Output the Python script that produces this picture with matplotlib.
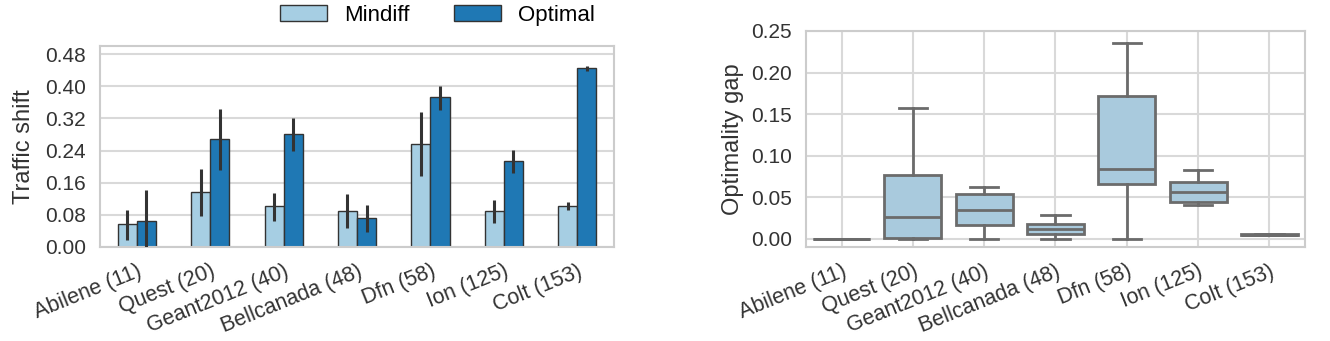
import numpy as np
import matplotlib
matplotlib.use("Agg")
import matplotlib.pyplot as plt

plt.rcParams['font.family'] = ['Liberation Sans', 'DejaVu Sans']

topologies = ["Abilene (11)", "Quest (20)", "Geant2012 (40)", "Bellcanada (48)",
              "Dfn (58)", "Ion (125)", "Colt (153)"]

# left panel: traffic shift (mean, ci low, ci high)
mindiff_mean = [0.056, 0.137, 0.101, 0.089, 0.257, 0.089, 0.103]
mindiff_lo = [0.018, 0.076, 0.065, 0.046, 0.176, 0.060, 0.093]
mindiff_hi = [0.093, 0.193, 0.135, 0.132, 0.337, 0.116, 0.112]
optimal_mean = [0.065, 0.268, 0.281, 0.071, 0.372, 0.213, 0.445]
optimal_lo = [0.000, 0.192, 0.240, 0.037, 0.341, 0.184, 0.439]
optimal_hi = [0.142, 0.343, 0.320, 0.105, 0.400, 0.242, 0.451]

# right panel: optimality gap box stats
gap_whislo = [0.0, 0.0, 0.0, 0.0, 0.0, 0.041, 0.0045]
gap_q1 = [0.0, 0.001, 0.0167, 0.006, 0.0658, 0.0447, 0.0045]
gap_med = [0.0, 0.0267, 0.0347, 0.012, 0.0837, 0.0566, 0.005]
gap_q3 = [0.0, 0.0766, 0.0546, 0.018, 0.172, 0.069, 0.006]
gap_whishi = [0.0, 0.1575, 0.063, 0.0287, 0.235, 0.0825, 0.006]

light = "#a6cee3"
dark = "#1f78b4"
grid_c = "#d9d9d9"
txt_c = "#333333"
fs = 15

fig = plt.figure(figsize=(13.3, 3.41), dpi=100)
ax1 = fig.add_axes([0.0752, 0.2757, 0.3865, 0.5894])
ax2 = fig.add_axes([0.606, 0.2757, 0.3752, 0.6334])

x = np.arange(len(topologies))
w = 0.26
m = np.array(mindiff_mean)
o = np.array(optimal_mean)
ax1.bar(x - w/2, m, w, color=light, edgecolor="#333333", linewidth=1, label="Mindiff", zorder=2)
ax1.bar(x + w/2, o, w, color=dark, edgecolor="#333333", linewidth=1, label="Optimal", zorder=2)
ax1.errorbar(x - w/2, m, yerr=[m - np.array(mindiff_lo), np.array(mindiff_hi) - m],
             fmt="none", ecolor="#333333", elinewidth=2.2, capsize=0, zorder=3)
ax1.errorbar(x + w/2, o, yerr=[o - np.array(optimal_lo), np.array(optimal_hi) - o],
             fmt="none", ecolor="#333333", elinewidth=2.2, capsize=0, zorder=3)
ax1.set_xlim(-0.5, 6.5)
ax1.set_ylim(0, 0.5)
ax1.set_yticks([0.0, 0.08, 0.16, 0.24, 0.32, 0.40, 0.48])
ax1.set_yticklabels(["%.2f" % v for v in [0.0, 0.08, 0.16, 0.24, 0.32, 0.40, 0.48]])
ax1.yaxis.grid(True, color=grid_c, linewidth=1.5, zorder=0)
ax1.set_axisbelow(True)
ax1.set_ylabel("Traffic shift", fontsize=17, color=txt_c, labelpad=7)

stats = []
for i in range(len(topologies)):
    stats.append({"whislo": gap_whislo[i], "q1": gap_q1[i], "med": gap_med[i],
                  "q3": gap_q3[i], "whishi": gap_whishi[i], "fliers": []})
lc = "#6b6b6b"
ax2.bxp(stats, positions=x, widths=0.8, patch_artist=True, showfliers=False,
        boxprops=dict(facecolor="#a9cadd", edgecolor=lc, linewidth=2),
        medianprops=dict(color=lc, linewidth=2),
        whiskerprops=dict(color=lc, linewidth=2),
        capprops=dict(color=lc, linewidth=2), capwidths=0.4)
ax2.set_xlim(-0.5, 6.5)
ax2.set_ylim(-0.0096, 0.25)
ax2.set_yticks([0.0, 0.05, 0.10, 0.15, 0.20, 0.25])
ax2.set_yticklabels(["%.2f" % v for v in [0.0, 0.05, 0.10, 0.15, 0.20, 0.25]])
ax2.grid(True, color=grid_c, linewidth=1.5, zorder=0)
ax2.set_axisbelow(True)
ax2.set_ylabel("Optimality gap", fontsize=17, color=txt_c, labelpad=5)

for ax in (ax1, ax2):
    ax.set_xticks(x)
    ax.set_xticklabels(topologies, rotation=22, ha="right", rotation_mode="anchor")
    ax.tick_params(axis="both", length=0, labelsize=fs, labelcolor=txt_c)
    ax.tick_params(axis="x", labelsize=15.5, pad=10)
    ax.tick_params(axis="y", pad=10)
    for s in ax.spines.values():
        s.set_color("#cccccc")
        s.set_linewidth(1.5)

fig.legend(loc="center", bbox_to_anchor=(0.329, 0.955), ncol=2, frameon=False,
           fontsize=16, handlelength=2.1, handleheight=0.73, handletextpad=0.77,
           columnspacing=2.0)

fig.savefig("out.png", dpi=100)
